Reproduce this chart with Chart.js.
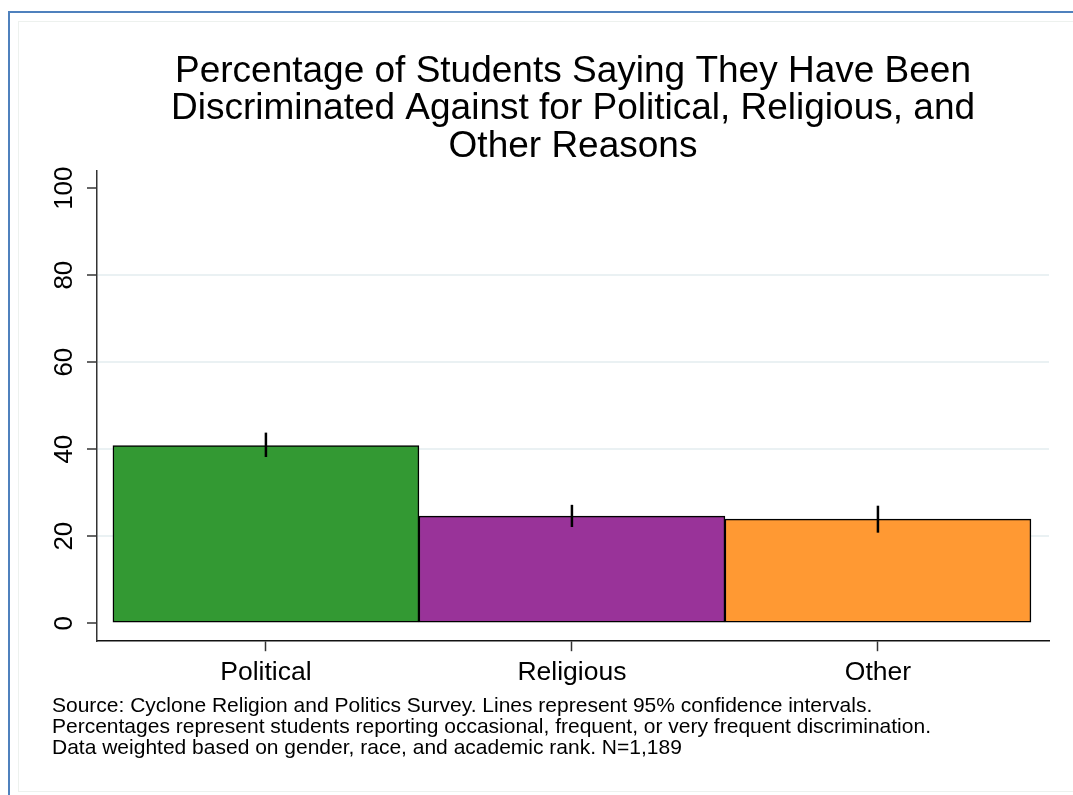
<!DOCTYPE html>
<html>
<head>
<meta charset="utf-8">
<title>Discrimination by reason</title>
<script src="https://cdn.jsdelivr.net/npm/chart.js@4/dist/chart.umd.min.js"></script>
<style>
  html, body { margin: 0; padding: 0; background: #fff; overflow: hidden; }
  /* slide frame lines */
  .frame-outer { position: absolute; left: 8px; top: 11px; width: 1200px; height: 900px;
    border-left: 2px solid #4f81bd; border-top: 2px solid #4f81bd; }
  .frame-inner { position: absolute; left: 18px; top: 21px; width: 1200px; height: 769px;
    border: 1px solid #edf1ee; }
  #wrap { position: absolute; left: 0; top: 0; width: 1073px; height: 795px; }
</style>
</head>
<body>
<div class="frame-outer"></div>
<div class="frame-inner"></div>
<div id="wrap"><canvas id="chart-bars"></canvas></div>
<script>
// survey results (percent) and 95% confidence bounds
const categories = ["Political", "Religious", "Other"];
const percentages = [40.8, 24.6, 23.9];
const ciLow = [38.2, 22.1, 20.8];
const ciHigh = [43.8, 27.2, 27.0];
const barColors = ["#339933", "#993399", "#ff9933"];
const yTicks = [0, 20, 40, 60, 80, 100];

const titleLines = [
	"Percentage of Students Saying They Have Been",
	"Discriminated Against for Political, Religious, and",
	"Other Reasons"
];
const noteLines = [
	"Source: Cyclone Religion and Politics Survey. Lines represent 95% confidence intervals.",
	"Percentages represent students reporting occasional, frequent, or very frequent discrimination.",
	"Data weighted based on gender, race, and academic rank. N=1,189"
];

const FONT = "'Liberation Sans', Arial, Helvetica, sans-serif";

// vertical lines for the confidence intervals
const ciLines = {
	id: "ciLines",
	afterDatasetsDraw(chart) {
		const ctx = chart.ctx;
		const xs = chart.scales.x;
		const ys = chart.scales.y;
		ctx.save();
		ctx.strokeStyle = "#000";
		ctx.lineWidth = 2.5;
		for (let i = 0; i < categories.length; i++) {
			const x = xs.getPixelForValue(i);
			ctx.beginPath();
			ctx.moveTo(x, ys.getPixelForValue(ciLow[i]));
			ctx.lineTo(x, ys.getPixelForValue(ciHigh[i]));
			ctx.stroke();
		}
		ctx.restore();
	}
};

const ctx = document.getElementById("chart-bars").getContext("2d");
let myChart = new Chart(ctx, {
	type: "bar",
	data: {
		datasets: [
			{
				label: "Percent",
				data: percentages.map((v, i) => ({ x: i, y: v })),
				backgroundColor: barColors,
				borderColor: "#000",
				borderWidth: 1.5,
				borderSkipped: false,
				categoryPercentage: 1,
				barPercentage: 1,
			}
		],
	},
	options: {
		responsive: true,
		maintainAspectRatio: false,
		animation: false,
		layout: {
			padding: { top: 53, left: 52, right: 24, bottom: 36 },
		},
		plugins: {
			legend: { display: false },
			tooltip: { enabled: false },
			title: {
				display: true,
				text: titleLines,
				fullSize: false,
				color: "#000",
				font: { family: FONT, size: 37, weight: "normal", lineHeight: "37.4px" },
				padding: { top: 0, bottom: 6 },
			},
			subtitle: {
				display: true,
				text: noteLines,
				position: "bottom",
				align: "start",
				color: "#000",
				font: { family: FONT, size: 21, weight: "normal", lineHeight: "21px" },
				padding: { top: 1, bottom: 0 },
			},
		},
		scales: {
			x: {
				type: "linear",
				offset: false,
				min: -0.552,
				max: 2.559,
				afterBuildTicks: (scale) => { scale.ticks = categories.map((c, i) => ({ value: i })); },
				grid: { offset: false, drawOnChartArea: false, drawTicks: true, tickLength: 10, tickColor: "#333", tickWidth: 1.5 },
				border: { display: true, color: "#111", width: 1.5 },
				ticks: {
					autoSkip: false,
					padding: 6,
					color: "#000",
					font: { family: FONT, size: 26.5 },
					callback: (v) => categories[v] || "",
				},
			},
			y: {
				min: -4.15,
				max: 103.9,
				afterBuildTicks: (scale) => { scale.ticks = yTicks.map((v) => ({ value: v })); },
				afterFit: (scale) => { scale.width = 45; },
				grid: {
					color: (c) => (c.tick && c.tick.value > 0 && c.tick.value < 100 ? "#eaf1f3" : "rgba(0,0,0,0)"),
					lineWidth: 2,
					drawTicks: true,
					tickLength: 10,
					tickColor: "#333",
					tickWidth: 1.5,
				},
				border: { display: true, color: "#333", width: 1.5 },
				ticks: {
					autoSkip: false,
					minRotation: 90,
					maxRotation: 90,
					crossAlign: "center",
					padding: 0,
					color: "#000",
					font: { family: FONT, size: 26 },
				},
			},
		},
	},
	plugins: [ciLines],
});
</script>
</body>
</html>
